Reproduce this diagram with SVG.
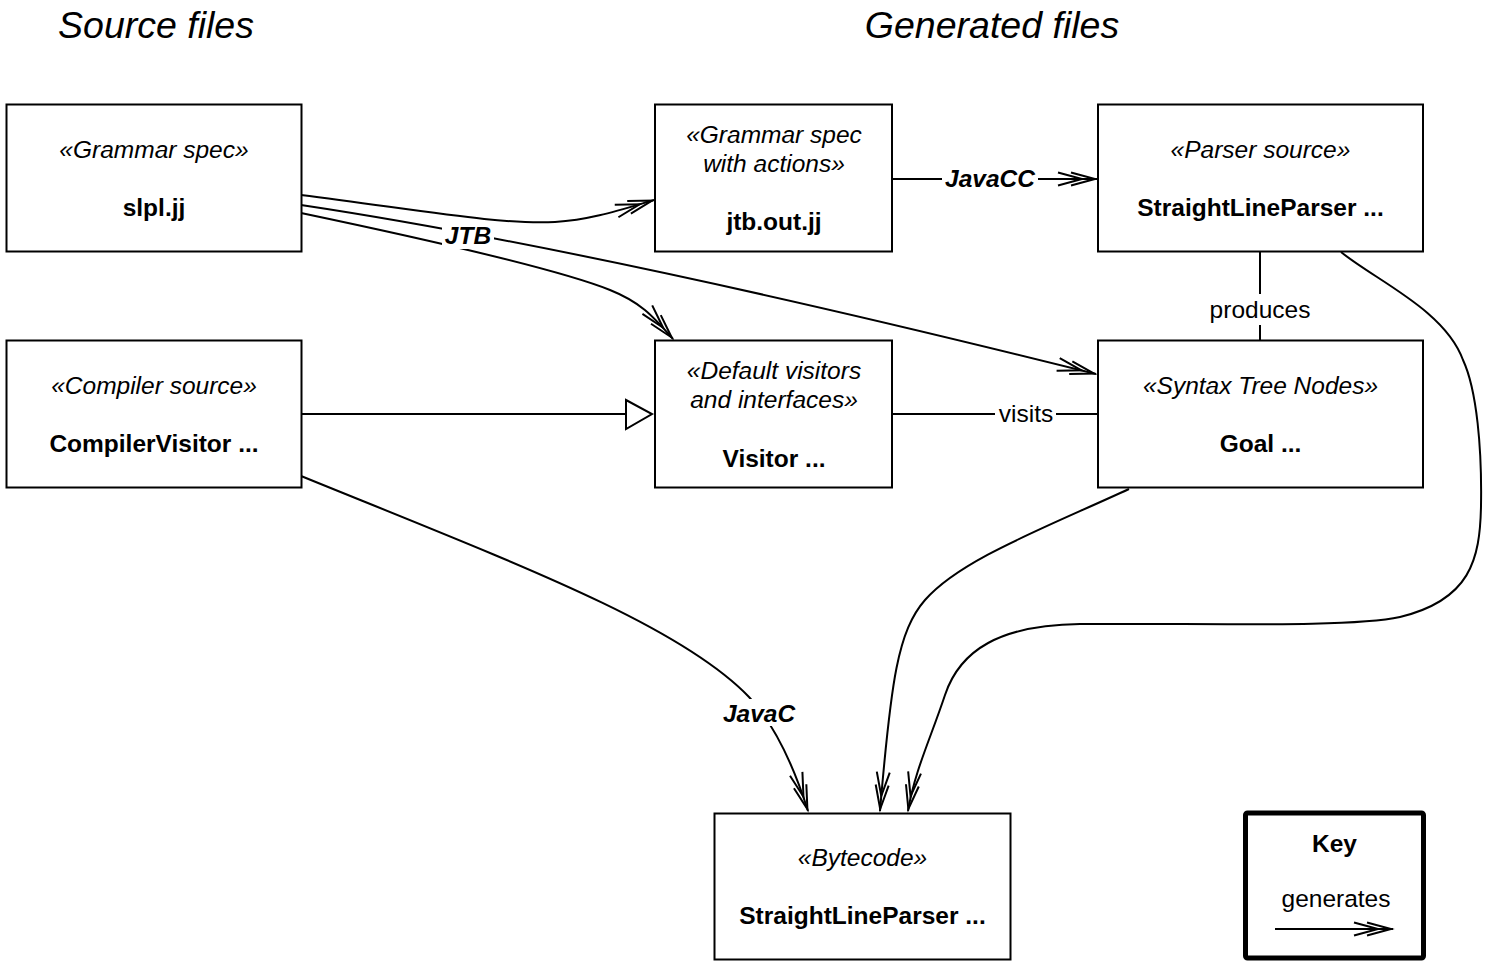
<svg xmlns="http://www.w3.org/2000/svg" width="1487" height="968" viewBox="0 0 1487 968">
<style>
text{font-family:"Liberation Sans",Arial,Helvetica,sans-serif;font-size:24.5px;fill:#000;text-anchor:middle}
.st{font-style:italic}
.nm{font-weight:bold}
.lbl{font-weight:bold;font-style:italic}
.title{font-style:italic;font-size:37.5px}
.box{fill:#fff;stroke:#000;stroke-width:2}
.c{fill:none;stroke:#000;stroke-width:2}
.arr{marker-end:url(#dbl)}
.bg{fill:#fff;stroke:none}
</style>
<defs>
<marker id="dbl" markerUnits="userSpaceOnUse" orient="auto" refX="0" refY="0" markerWidth="44" markerHeight="20" viewBox="-42 -10 44 20" overflow="visible">
<path d="M-26,-6.5 L-2,0 L-26,6.5 M-39,-6.5 L-15,0 L-39,6.5" fill="none" stroke="#000" stroke-width="2"/>
</marker>
</defs>
<rect width="1487" height="968" fill="#fff"/>
<g id="titles">
<text class="title" x="156" y="38">Source files</text>
<text class="title" x="992" y="38">Generated files</text>
</g>
<g id="connectors">
<path class="c arr" d="M301,195 C420,210 500,225 555,222 C590,220 620,210 654,200"/>
<path class="c arr" d="M301,205 Q600,250 1096,374"/>
<path class="c arr" d="M301,213 C420,238 560,270 610,290 C640,302 652,315 673,339"/>
<rect class="bg" x="442" y="223" width="52" height="26"/>
<text class="lbl" x="468" y="244">JTB</text>
<path class="c arr" d="M892,179 L1097,179"/>
<rect class="bg" x="942" y="165" width="96" height="28"/>
<text class="lbl" x="990" y="187">JavaCC</text>
<path class="c" d="M1260,252 L1260,340"/>
<rect class="bg" x="1205" y="294" width="110" height="31"/>
<text x="1260" y="318">produces</text>
<path class="c" d="M301,414 L626,414"/>
<polygon points="626,400 652,414 626,429" fill="#fff" stroke="#000" stroke-width="2"/>
<path class="c" d="M892,414 L1098,414"/>
<rect class="bg" x="995" y="402" width="61" height="26"/>
<text x="1026" y="422">visits</text>
<path class="c arr" d="M301,476 C520,565 680,625 749,697 C775,725 795,770 808,811"/>
<rect class="bg" x="720" y="699" width="80" height="27"/>
<text class="lbl" x="759" y="722">JavaC</text>
<path class="c arr" d="M1129,489 C1040,530 960,560 925,600 C898,631 891,680 880,811"/>
<path class="c arr" d="M1341,252 C1375,280 1445,310 1463,360 C1477,390 1482,450 1481,506 C1480,560 1470,600 1400,617 C1350,628 1200,623 1080,624 C1000,625 960,650 945,695 C930,740 915,770 908,811"/>
</g>
<g id="n-slpl">
<rect class="box" x="6.5" y="104.5" width="295" height="147"/>
<text class="st" x="154" y="158">«Grammar spec»</text>
<text class="nm" x="154" y="216">slpl.jj</text>
</g>
<g id="n-jtb">
<rect class="box" x="655" y="104.5" width="237" height="147"/>
<text class="st" x="774" y="143">«Grammar spec</text>
<text class="st" x="774" y="172">with actions»</text>
<text class="nm" x="774" y="230">jtb.out.jj</text>
</g>
<g id="n-parser">
<rect class="box" x="1098" y="104.5" width="325" height="147"/>
<text class="st" x="1260.5" y="158">«Parser source»</text>
<text class="nm" x="1260.5" y="216">StraightLineParser ...</text>
</g>
<g id="n-compiler">
<rect class="box" x="6.5" y="340.5" width="295" height="147"/>
<text class="st" x="154" y="394">«Compiler source»</text>
<text class="nm" x="154" y="452">CompilerVisitor ...</text>
</g>
<g id="n-visitor">
<rect class="box" x="655" y="340.5" width="237" height="147"/>
<text class="st" x="774" y="379">«Default visitors</text>
<text class="st" x="774" y="408">and interfaces»</text>
<text class="nm" x="774" y="467">Visitor ...</text>
</g>
<g id="n-goal">
<rect class="box" x="1098" y="340.5" width="325" height="147"/>
<text class="st" x="1260.5" y="394">«Syntax Tree Nodes»</text>
<text class="nm" x="1260.5" y="452">Goal ...</text>
</g>
<g id="n-bytecode">
<rect class="box" x="714.5" y="813.5" width="296" height="146"/>
<text class="st" x="862.5" y="866">«Bytecode»</text>
<text class="nm" x="862.5" y="924">StraightLineParser ...</text>
</g>
<g id="key">
<rect x="1245.5" y="813" width="178" height="145" rx="2" fill="#fff" stroke="#000" stroke-width="5"/>
<text class="nm" x="1334.5" y="852">Key</text>
<text x="1336" y="907">generates</text>
<path class="c arr" d="M1275,929 L1393,929"/>
</g>
</svg>
